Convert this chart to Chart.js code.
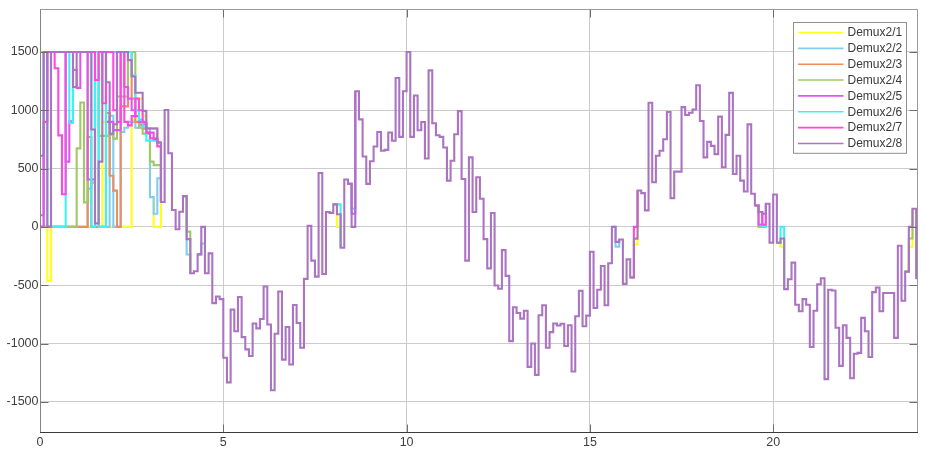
<!DOCTYPE html>
<html>
<head>
<meta charset="utf-8">
<title>Demux2 scope</title>
<script src="https://cdn.jsdelivr.net/npm/chart.js@4.4.1/dist/chart.umd.min.js"></script>
<style>
    html, body { margin: 0; padding: 0; background: #fff; }
    #wrap { position: relative; width: 926px; height: 474px; }
</style>
</head>
<body>
<div id="wrap"><canvas id="scope"></canvas></div>
<script>
(function() {
    'use strict';

    /* ---- Data (one sample every 0.1 s) ---- */
    var sampleStep = 0.1;
    var xTicks = [0, 5, 10, 15, 20];
    var yTicks = [-1500, -1000, -500, 0, 500, 1000, 1500];
    var xRange = [0, 23.95];
    var yRange = [-1758, 1868];

    var seriesNames = ['Demux2/1', 'Demux2/2', 'Demux2/3', 'Demux2/4',
                       'Demux2/5', 'Demux2/6', 'Demux2/7', 'Demux2/8'];
    var seriesColors = ['#ffff1a', '#7fcdf2', '#f08a60', '#a0c966',
                        '#e154ee', '#3df2f2', '#ff48e2', '#ab74c3'];

    // channel 8, t = 0 .. 24
    var demux8 = [
        610, 1500, 0, 1500, 1500, 1500, 1500, 1500, 1500, 1200,
        1500, 1500, 1500, 1500, 835, 30, 560, 1500, 1240, 800,
        880, 1500, 1500, 1500, 1430, 1290, 1150, 1150, 995, 843,
        843, 843, 723, 213, 1002, 632, 145, -20, 130, 264,
        -105, -397, -380, -235, 0, -397, -227, -653, -596, -619,
        -1121, -1333, -709, -894, -601, -945, -1050, -1106, -828, -870,
        -789, -511, -837, -1400, -916, -553, -1138, -858, -1180, -669,
        -823, -1036, -445, 9, -289, -426, 462, -403, 128, 120,
        193, 108, -179, 406, 369, 0, 1163, 922, 604, 369,
        563, 689, 814, 653, 660, 809, 738, 1277, 772, 1163,
        1500, 772, 1126, 828, 899, 587, 1342, 888, 786, 772,
        681, 397, 567, 794, 993, 411, -289, 596, 128, 426,
        241, -105, -355, 119, -502, -530, -199, -420, -979, -689,
        -738, -786, -718, -1200, -999, -1268, -757, -672, -1036, -902,
        -828, -845, -830, -1021, -843, -1240, -766, -548, -851, -760,
        -213, -695, -539, -335, -672, -312, 0, -128, -108, -488,
        -278, -434, -100, 312, 290, 142, 1064, 383, 610, 653,
        752, 985, 247, 474, 474, 1027, 959, 979, 1007, 1215,
        908, 596, 729, 695, 624, 945, 511, 789, 1149, 454,
        610, 397, 304, 879, 284, 184, 128, 113, 199, -136,
        278, -136, -99, -533, -448, -306, -667, -723, -619, -667,
        -1030, -718, -491, -440, -1305, -539, -545, -865, -1191, -843,
        -951, -1297, -1087, -1080, -780, -894, -1115, -559, -519, -723,
        -567, -567, -567, -951, -162, -633, -383, 0, 156, -440, -440
    ];

    // channels 1..7 while they still wander between 0 and 1500 (t = 0 .. 3.3)
    var demux1Start = [0, 0, -462, 0, 0, 0, 0, 0, 0, 0, 0, 0, 0, 0, 0, 0, 0, 900,
                       0, 0, 0, 0, 0, 0, 0, 920, 1000, 1100, 950, 843, 255, 0, 0, 213];
    var demux2Start = [0, 0, 0, 0, 0, 0, 0, 0, 0, 0, 0, 0, 0, 328, 380, 1500, 0, 0,
                       0, 953, 0, 0, 813, 850, 900, 900, 850, 870, 843, 843, 255, 113, 417, 213];
    var demux3Start = [0, 0, 0, 0, 0, 0, 0, 0, 0, 0, 0, 0, 0, 771, 0, 0, 0, 0,
                       976, 439, 311, 0, 1033, 1033, 1500, 1100, 900, 880, 843, 843, 843, 843, 723, 213];
    var demux4Start = [0, 0, 0, 0, 0, 0, 0, 0, 0, 0, 673, 1066, 210, 1500, 1500, 1500, 780, 780,
                       780, 790, 757, 1118, 1118, 1118, 1500, 1500, 1000, 850, 800, 800, 560, 530, 530, 213];
    var demux5Start = [100, 1500, 1500, 1500, 1500, 1500, 1500, 560, 906, 1346, 1192, 1500, 1500, 407, 407, 1500, 1500, 1500,
                       900, 900, 830, 830, 1500, 1200, 1100, 1000, 950, 900, 880, 808, 760, 760, 723, 213];
    var demux6Start = [0, 1500, 0, 0, 0, 0, 0, 1500, 892, 1500, 1500, 1500, 1500, 1500, 0, 1500, 0, 0,
                       1500, 1500, 1500, 1500, 1500, 1500, 1500, 1300, 1000, 920, 860, 740, 740, 740, 723, 213];
    var demux7Start = [0, 900, 1500, 1500, 1360, 785, 280, 1500, 1500, 1500, 1500, 1500, 1500, 1500, 1500, 1260, 1500, 1060,
                       1500, 1500, 1000, 900, 1500, 900, 870, 950, 1100, 1000, 900, 808, 808, 752, 690, 213];

    // later single samples where a channel leaves channel 8: [sample index, value]
    var demux1Dev = [[81, 0], [162, -150], [202, -170], [237, -170]];
    var demux2Dev = [[40, -236], [44, -142], [85, 156], [157, -170]];
    var demux3Dev = [];
    var demux4Dev = [[40, -40], [196, 0], [237, -99]];
    var demux5Dev = [[85, 113], [196, 20]];
    var demux6Dev = [[81, 193], [197, 0], [202, 0]];
    var demux7Dev = [[162, 0], [197, 20]];

    /* ---- Point builders ---- */
    function runPoints(values) {
        return values.map(function(v, i) { return { x: i * sampleStep, y: v }; });
    }

    function channelPoints(start, devs) {
        var pts = runPoints(start);
        pts.push({ x: start.length * sampleStep, y: null });
        devs.forEach(function(d) {
            var i = d[0];
            pts.push({ x: (i - 1) * sampleStep, y: demux8[i - 1] });
            pts.push({ x: i * sampleStep, y: d[1] });
            pts.push({ x: (i + 1) * sampleStep, y: demux8[i + 1] });
            pts.push({ x: (i + 1) * sampleStep, y: null });
        });
        return pts;
    }

    var channelData = [
        channelPoints(demux1Start, demux1Dev),
        channelPoints(demux2Start, demux2Dev),
        channelPoints(demux3Start, demux3Dev),
        channelPoints(demux4Start, demux4Dev),
        channelPoints(demux5Start, demux5Dev),
        channelPoints(demux6Start, demux6Dev),
        channelPoints(demux7Start, demux7Dev),
        runPoints(demux8)
    ];

    var datasets = channelData.map(function(pts, k) {
        return {
            label: seriesNames[k],
            data: pts,
            borderColor: seriesColors[k],
            backgroundColor: seriesColors[k],
            borderWidth: 2.1,
            stepped: true,
            pointRadius: 0,
            fill: false,
            spanGaps: false,
            order: seriesNames.length - k   // channel 8 on top
        };
    });

    /* ---- Plugins ---- */
    // axes box with inward tick marks
    var axesBox = {
        id: 'axesBox',
        afterDatasetsDraw: function(chart) {
            var ctx = chart.ctx, a = chart.chartArea;
            var xs = chart.scales.x, ys = chart.scales.y;
            var L = Math.round(a.left) + 0.5, R = Math.round(a.right) - 0.5;
            var T = Math.round(a.top) + 0.5, B = Math.round(a.bottom) + 0.5;
            ctx.save();
            ctx.lineWidth = 1;
            ctx.strokeStyle = '#6e6e6e';
            xTicks.forEach(function(v) {
                var px = Math.round(xs.getPixelForValue(v)) + 0.5;
                ctx.beginPath();
                ctx.moveTo(px, B); ctx.lineTo(px, B - 8);
                ctx.moveTo(px, T); ctx.lineTo(px, T + 8);
                ctx.stroke();
            });
            yTicks.forEach(function(v) {
                var py = Math.round(ys.getPixelForValue(v)) + 0.5;
                ctx.beginPath();
                ctx.moveTo(L, py); ctx.lineTo(L + 8, py);
                ctx.moveTo(R, py); ctx.lineTo(R - 8, py);
                ctx.stroke();
            });
            ctx.strokeStyle = '#9a9a9a';
            ctx.beginPath(); ctx.moveTo(L, T); ctx.lineTo(R, T); ctx.lineTo(R, B); ctx.stroke();
            ctx.strokeStyle = '#858585';
            ctx.beginPath(); ctx.moveTo(L, T); ctx.lineTo(L, B); ctx.stroke();
            ctx.strokeStyle = '#3a3a3a';
            ctx.beginPath(); ctx.moveTo(L - 0.5, B); ctx.lineTo(R + 0.5, B); ctx.stroke();
            ctx.restore();
        }
    };

    // scope style legend box, top right inside the axes
    var scopeLegend = {
        id: 'scopeLegend',
        afterDraw: function(chart) {
            var ctx = chart.ctx, a = chart.chartArea;
            var ds = chart.data.datasets;
            var boxW = 113, rowH = 15.85;
            var boxH = ds.length * rowH + 4;
            var bx = Math.round(a.right - 12 - boxW) + 0.5;
            var by = Math.round(a.top + 13) + 0.5;
            ctx.save();
            ctx.fillStyle = '#ffffff';
            ctx.fillRect(bx, by, boxW, boxH);
            ctx.strokeStyle = '#8f8f8f';
            ctx.lineWidth = 1;
            ctx.strokeRect(bx, by, boxW, boxH);
            ctx.font = '12px "Liberation Sans", Arial, sans-serif';
            ctx.textBaseline = 'middle';
            ds.forEach(function(d, k) {
                var cy = by + 10 + k * rowH;
                ctx.strokeStyle = d.borderColor;
                ctx.lineWidth = 1.6;
                ctx.beginPath();
                ctx.moveTo(bx + 4.5, cy);
                ctx.lineTo(bx + 50, cy);
                ctx.stroke();
                ctx.fillStyle = '#3a3a3a';
                ctx.fillText(d.label, bx + 54, cy + 0.5);
            });
            ctx.restore();
        }
    };

    /* ---- Chart ---- */
    Chart.defaults.font.family = '"Liberation Sans", Arial, sans-serif';

    function plainTick(v) { return String(v); }

    new Chart(document.getElementById('scope').getContext('2d'), {
        type: 'line',
        data: { datasets: datasets },
        options: {
            responsive: true, maintainAspectRatio: false,
            animation: false, events: [],
            layout: { padding: { left: 0, top: 5, right: 8, bottom: 0 } },
            plugins: { legend: { display: false }, tooltip: { enabled: false } },
            scales: {
                x: {
                    type: 'linear', min: xRange[0], max: xRange[1],
                    afterBuildTicks: function(axis) { axis.ticks = xTicks.map(function(v) { return { value: v }; }); },
                    afterFit: function(axis) { axis.height = 42; },
                    ticks: { color: '#404040', font: { size: 12.5 }, padding: 3, maxRotation: 0, callback: plainTick },
                    grid: { color: '#cbcbcb', drawTicks: false },
                    border: { display: false }
                },
                y: {
                    type: 'linear', min: yRange[0], max: yRange[1],
                    afterBuildTicks: function(axis) { axis.ticks = yTicks.map(function(v) { return { value: v }; }); },
                    afterFit: function(axis) { axis.width = 40; },
                    ticks: { color: '#404040', font: { size: 12.5 }, padding: 1.5, callback: plainTick },
                    grid: { color: '#cbcbcb', drawTicks: false },
                    border: { display: false }
                }
            }
        },
        plugins: [axesBox, scopeLegend]
    });
})();
</script>
</body>
</html>
